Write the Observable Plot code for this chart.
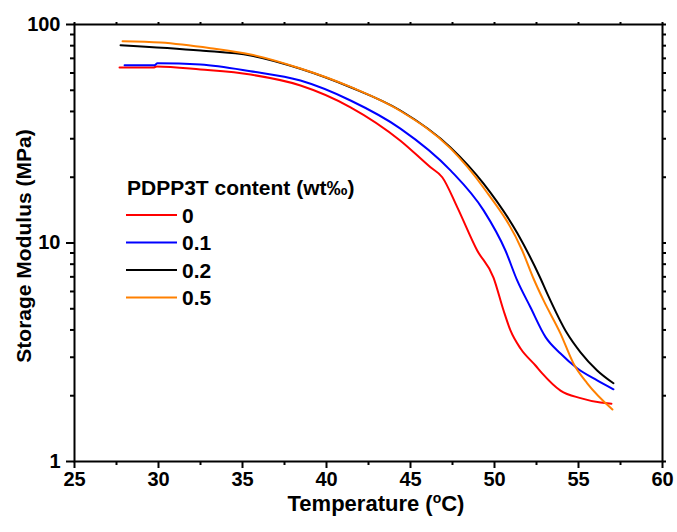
<!DOCTYPE html>
<html><head><meta charset="utf-8">
<script src="https://cdn.jsdelivr.net/npm/d3@7"></script>
<script src="https://cdn.jsdelivr.net/npm/@observablehq/plot@0.6"></script>
<style>
html,body{margin:0;padding:0;background:#fff;overflow:hidden}
#chart{width:677px;height:532px}
#chart svg text{font-weight:bold !important}
</style>
</head><body><div id="chart"></div>
<script>
// Series: PDPP3T content (wt‰)
const seriesNames = ["0", "0.1", "0.2", "0.5"];
const seriesColors = ["#ff0000", "#0000ff", "#000000", "#ff8000"];
const legendTitle = "PDPP3T content (wt‰)";

// Temperature (°C) and Storage Modulus (MPa)
const temp0 = [27.68, 29.70, 29.90, 32.5, 35.48, 38.45, 41.43, 44.40, 46.19, 46.89, 47.78, 48.97, 49.94, 50.54, 50.95, 51.55, 52.44, 52.84, 53.93, 55.12, 56.31, 56.96];
const mod0  = [63.6, 63.6, 64.2, 62.2, 59.0, 52.6, 41.8, 29.4, 22.2, 20.0, 14.6, 9.24, 6.95, 4.91, 3.98, 3.29, 2.75, 2.53, 2.11, 1.95, 1.86, 1.84];

const temp01 = [27.98, 29.76, 29.94, 32.5, 35.48, 38.45, 41.43, 44.40, 47.38, 49.35, 50.65, 51.35, 52.14, 53.04, 53.93, 54.92, 56.11, 57.08];
const mod01  = [65.1, 65.1, 66.5, 65.6, 61.1, 55.4, 44.9, 33.4, 21.5, 14.1, 9.24, 6.74, 5.08, 3.71, 3.12, 2.67, 2.35, 2.14];

const temp02 = [27.74, 32.5, 35.48, 38.45, 41.43, 44.40, 47.38, 49.35, 51.37, 52.74, 53.14, 54.33, 55.12, 56.11, 57.08];
const mod02  = [80.4, 76.0, 72.1, 62.7, 51.6, 40.4, 27.4, 18.7, 11.05, 6.88, 5.87, 3.85, 3.16, 2.61, 2.28];

const temp05 = [27.86, 30.12, 33.1, 35.48, 38.45, 41.43, 44.40, 47.38, 49.35, 51.65, 52.32, 52.92, 53.93, 54.70, 55.52, 57.02];
const mod05  = [83.9, 82.7, 77.9, 72.9, 62.9, 51.8, 40.2, 27.1, 17.9, 9.24, 6.88, 5.46, 3.85, 2.81, 2.28, 1.73];

const xMajorTicks = [25, 30, 35, 40, 45, 50, 55, 60];
const xMinorTicks = [27.5, 32.5, 37.5, 42.5, 47.5, 52.5, 57.5];
const yMajorTicks = [1, 10, 100];
const yMinorTicks = [2, 3, 4, 5, 6, 7, 8, 9, 20, 30, 40, 50, 60, 70, 80, 90];
const xLabel = "Temperature (";
const xLabelSup = "o";
const xLabelUnit = "C)";
const yLabel = "Storage Modulus (MPa)";

const temps = [temp0, temp01, temp02, temp05];
const mods = [mod0, mod01, mod02, mod05];
const rows = [];
seriesNames.forEach((s, i) => temps[i].forEach((t, j) => rows.push({series: s, t, e: mods[i][j]})));

const FONT = "'Liberation Sans', Arial, sans-serif";
const noText = () => "";
const fmt = d3.format("d");

const chart = Plot.plot({
  width: 677,
  height: 532,
  marginLeft: 74,
  marginRight: 15,
  marginTop: 24,
  marginBottom: 71,
  style: {fontFamily: FONT, fontWeight: "bold", fontSize: "20px", background: "#fff", color: "#000"},
  x: {domain: [25, 60]},
  y: {type: "log", domain: [1, 100]},
  color: {domain: seriesNames, range: seriesColors},
  marks: [
    Plot.axisX({ticks: xMajorTicks, tickSize: 7, strokeWidth: 2, label: null, tickFormat: noText}),
    Plot.axisX({ticks: xMinorTicks, tickSize: 4, strokeWidth: 2, label: null, tickFormat: noText}),
    Plot.axisX({anchor: "top", ticks: xMajorTicks.concat(xMinorTicks), tickSize: 3, strokeWidth: 2, label: null, tickFormat: noText}),
    Plot.axisY({ticks: yMajorTicks, tickSize: 8, strokeWidth: 2, label: null, tickFormat: noText}),
    Plot.axisY({ticks: yMinorTicks, tickSize: 4, strokeWidth: 2, label: null, tickFormat: noText}),
    Plot.axisY({anchor: "right", ticks: yMajorTicks.concat(yMinorTicks), tickSize: 3, strokeWidth: 2, label: null, tickFormat: noText}),
    // tick labels
    Plot.text(xMajorTicks, {x: d => d, frameAnchor: "bottom", dy: 10, lineAnchor: "top", text: d => fmt(d),
      fontSize: 20, fontWeight: "bold", fontFamily: FONT, fill: "#000"}),
    Plot.text(yMajorTicks, {y: d => d, frameAnchor: "left", dx: -14, textAnchor: "end", lineAnchor: "middle", text: d => fmt(d),
      fontSize: 20, fontWeight: "bold", fontFamily: FONT, fill: "#000"}),
    Plot.line(rows, {x: "t", y: "e", z: "series", stroke: "series", strokeWidth: 2, curve: "monotone-x"}),
    Plot.frame({stroke: "#000", strokeWidth: 2})
  ]
});
document.getElementById("chart").appendChild(chart);

const svg = d3.select(chart);

// Axis titles and in-plot legend
const xt = svg.append("text")
  .attr("x", 376).attr("y", 511)
  .attr("text-anchor", "middle")
  .style("font-family", FONT).style("font-weight", "bold").style("font-size", "22px")
  .attr("fill", "#000");
xt.append("tspan").text(xLabel);
xt.append("tspan").style("font-size", "14px").attr("dy", -8).text(xLabelSup);
xt.append("tspan").attr("dy", 8).text(xLabelUnit);

svg.append("text")
  .attr("transform", "translate(31,246) rotate(-90)")
  .attr("text-anchor", "middle")
  .style("font-family", FONT).style("font-weight", "bold").style("font-size", "21px")
  .attr("fill", "#000")
  .text(yLabel);

const lg = svg.append("g")
  .attr("text-anchor", "start")
  .style("font-family", FONT).style("font-weight", "bold").style("font-size", "21px").attr("fill", "#000");
lg.append("text").attr("x", 127).attr("y", 195).attr("text-anchor", "start").text(legendTitle);
seriesNames.forEach((s, i) => {
  const cy = 215 + i * 27.5;
  lg.append("line").attr("x1", 126).attr("x2", 177).attr("y1", cy).attr("y2", cy)
    .attr("stroke", seriesColors[i]).attr("stroke-width", 2);
  lg.append("text").attr("x", 182).attr("y", cy).attr("dy", "0.36em").attr("text-anchor", "start").text(s);
});
</script>
</body></html>
